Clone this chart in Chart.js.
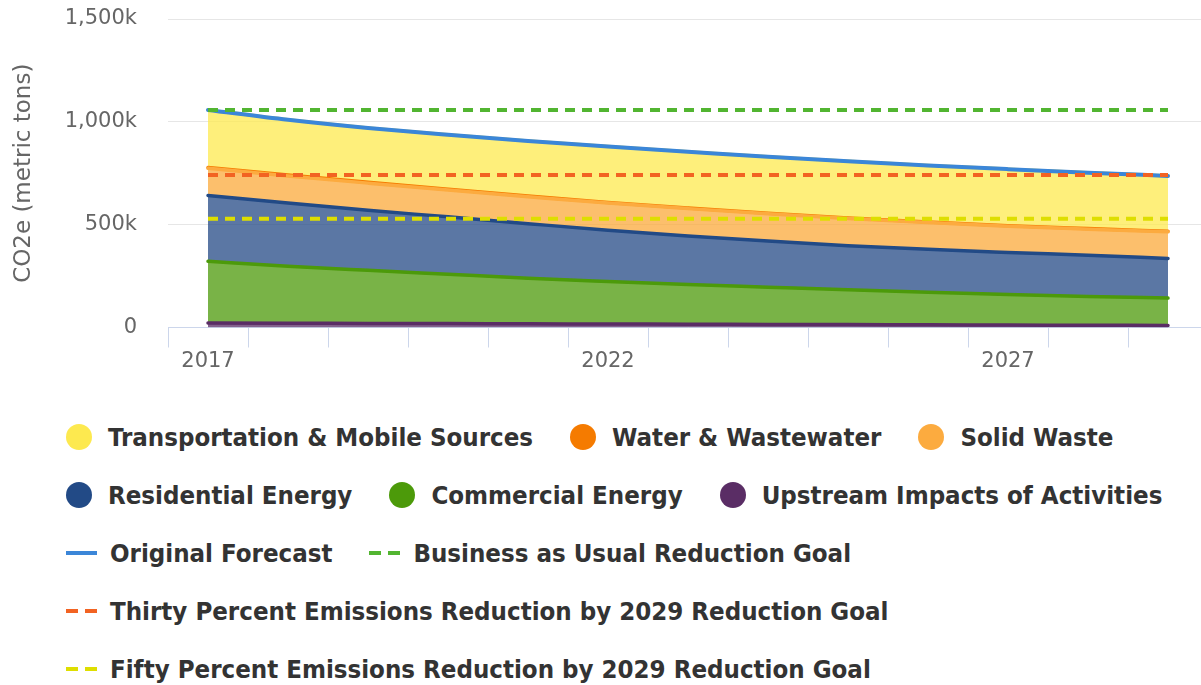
<!DOCTYPE html>
<html>
<head>
<meta charset="utf-8">
<script src="https://cdn.jsdelivr.net/npm/chart.js@4.4.0/dist/chart.umd.min.js"></script>
<style>
  html, body { margin:0; padding:0; background:#fff; overflow:hidden; width:1201px; height:685px; }
  #wrap { position:relative; width:1208px; height:400px; }
  #legend { position:absolute; left:66px; top:408px; width:1145px; display:flex; flex-wrap:wrap;
            font: bold 25.6px "DejaVu Sans Condensed", "DejaVu Sans", sans-serif; color:#333; }
  .item { display:flex; align-items:center; height:58px; margin-right:37px; white-space:nowrap; }
  .dot { width:26px; height:26px; border-radius:50%; margin-right:16px; flex:none; }
  .ln { width:31px; height:4px; margin-right:13px; flex:none; }
</style>
</head>
<body>
<div id="wrap"><canvas id="mycanvas" width="1208" height="400"></canvas></div>
<div id="legend"></div>
<script>
// values in thousand metric tons CO2e
var years = ['2017','2018','2019','2020','2021','2022','2023','2024','2025','2026','2027','2028','2029'];

var transportation = [280, 269, 264, 265, 268, 272, 274, 274, 275, 275, 275, 272, 269];
var water          = [4, 4, 4, 4, 3, 3, 3, 3, 3, 3, 3, 3, 3];
var solidWaste     = [132, 132, 132, 130, 131, 132, 133, 133, 132, 130, 127, 127, 129];
var residential    = [320, 307, 292, 279, 265, 249, 236, 224, 215, 209, 205, 200, 193];
var commercial     = [300, 277, 258, 240, 222, 207, 193, 181, 169, 158, 148, 140, 133];
var upstream       = [22, 21, 20, 19, 18, 17, 16, 15, 14, 13, 12, 11, 10];

var originalForecast = [1058, 1010, 970, 937, 907, 880, 855, 830, 808, 788, 770, 753, 737];
var businessAsUsual  = [1058, 1058, 1058, 1058, 1058, 1058, 1058, 1058, 1058, 1058, 1058, 1058, 1058];
var thirtyPercent    = [741, 741, 741, 741, 741, 741, 741, 741, 741, 741, 741, 741, 741];
var fiftyPercent     = [529, 529, 529, 529, 529, 529, 529, 529, 529, 529, 529, 529, 529];

var yTicks = [0, 500, 1000, 1500];

function area(label, data, color, fill, rgb) {
  return {
    label: label, data: data, stack: 'sectors', order: 2,
    borderColor: color, backgroundColor: 'rgba(' + rgb + ',0.75)',
    borderWidth: 3.5, borderCapStyle: 'round', fill: fill,
    pointRadius: 0, cubicInterpolationMode: 'monotone', legendType: 'dot'
  };
}
function goal(label, data, color, stack) {
  return {
    label: label, data: data, stack: stack, order: 0,
    borderColor: color, backgroundColor: color, borderWidth: 4, borderDash: [10, 7],
    fill: false, pointRadius: 0, legendType: 'dash'
  };
}

var datasets = [
  area('Upstream Impacts of Activities', upstream, '#5a2d65', 'origin', '90,45,101'),
  area('Commercial Energy', commercial, '#4c9a0a', '-1', '76,154,10'),
  area('Residential Energy', residential, '#224a86', '-1', '36,74,134'),
  area('Solid Waste', solidWaste, '#fcab3f', '-1', '251,170,59'),
  area('Water & Wastewater', water, '#f57b00', '-1', '245,123,0'),
  area('Transportation & Mobile Sources', transportation, '#fde94f', '-1', '253,233,79'),
  {
    label: 'Original Forecast', data: originalForecast, stack: 'forecast', order: 1,
    borderColor: '#3b86d8', backgroundColor: '#3b86d8', borderWidth: 4, borderCapStyle: 'round',
    fill: false, pointRadius: 0, cubicInterpolationMode: 'monotone', legendType: 'line'
  },
  goal('Business as Usual Reduction Goal', businessAsUsual, '#52b531', 'bau'),
  goal('Thirty Percent Emissions Reduction by 2029 Reduction Goal', thirtyPercent, '#f26322', 'thirty'),
  goal('Fifty Percent Emissions Reduction by 2029 Reduction Goal', fiftyPercent, '#dede00', 'fifty')
];

var ctx = document.getElementById('mycanvas');
var chart = new Chart(ctx, {
  type: 'line',
  data: { labels: years, datasets: datasets },
  options: {
    responsive: false,
    animation: false,
    layout: { padding: { top: 19, left: 0, right: 0, bottom: 0 } },
    plugins: { legend: { display: false }, tooltip: { enabled: false } },
    scales: {
      x: {
        offset: true,
        grid: { offset: true, drawOnChartArea: false, tickLength: 20, color: '#ccd6eb', lineWidth: 1 },
        border: { color: '#ccd6eb', width: 1 },
        ticks: {
          autoSkip: false, maxRotation: 0, padding: 1, color: '#666',
          font: { family: 'DejaVu Sans', size: 21 },
          callback: function(v, i) { return i % 5 === 0 ? years[i] : ''; }
        },
        afterFit: function(s) { s.height = 72.5; s.paddingLeft = 0; s.paddingRight = 0; }
      },
      y: {
        stacked: true, min: 0, max: 1500,
        afterBuildTicks: function(s) { s.ticks = yTicks.map(function(v){ return {value: v}; }); },
        grid: { color: '#e6e6e6', lineWidth: 1, drawTicks: false },
        border: { display: false },
        ticks: {
          padding: 31, color: '#666',
          font: { family: 'DejaVu Sans', size: 21 },
          callback: function(v) { return v === 0 ? '0' : v.toLocaleString('en-US') + 'k'; }
        },
        title: {
          display: true, text: 'CO2e (metric tons)', color: '#666',
          font: { family: 'DejaVu Sans', size: 23 }, padding: { top: 10, bottom: 0 }
        },
        afterFit: function(s) { s.width = 168; s.paddingTop = 0; s.paddingBottom = 0; }
      }
    }
  }
});

// html legend, Highcharts-like order
var legendOrder = [5, 4, 3, 2, 1, 0, 6, 7, 8, 9];
var legend = document.getElementById('legend');
legendOrder.forEach(function(i) {
  var ds = chart.data.datasets[i];
  var item = document.createElement('div');
  item.className = 'item';
  var mk = document.createElement('span');
  if (ds.legendType === 'dot') {
    mk.className = 'dot';
    mk.style.background = ds.borderColor;
  } else {
    mk.className = 'ln';
    mk.style.background = ds.legendType === 'dash'
      ? 'linear-gradient(to right,' + ds.borderColor + ' 0 12px, transparent 12px 19px,' + ds.borderColor + ' 19px 31px)'
      : ds.borderColor;
  }
  item.appendChild(mk);
  var tx = document.createElement('span');
  tx.textContent = ds.label;
  item.appendChild(tx);
  legend.appendChild(item);
});
</script>
</body>
</html>
